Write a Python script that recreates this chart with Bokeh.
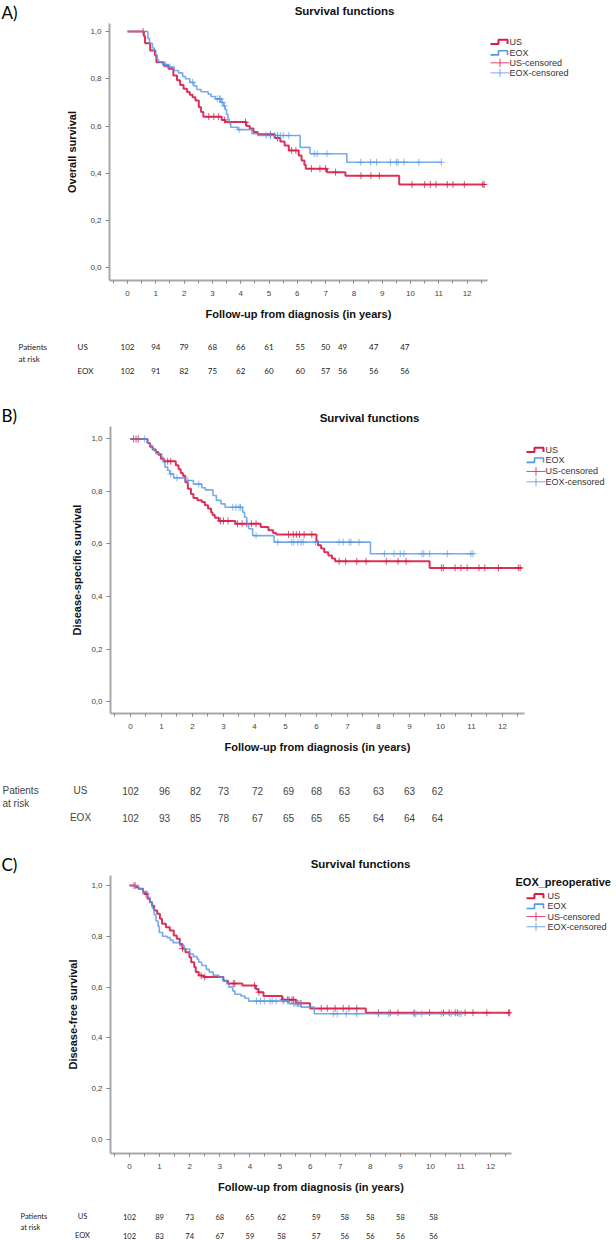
import numpy as np
from bokeh.plotting import figure
from bokeh.layouts import column, row
from bokeh.models import Range1d, SingleIntervalTicker, FixedTicker, CustomJSTickFormatter
from bokeh.embed import file_html
from bokeh.resources import INLINE
from bokeh.core.properties import value

# ---------------- data ----------------
x_ticks_years = list(range(0, 13))
y_ticks_surv = [0.0, 0.2, 0.4, 0.6, 0.8, 1.0]
legend_labels = ["US", "EOX", "US-censored", "EOX-censored"]
panel_letters = ["A)", "B)", "C)"]
y_titles = ["Overall survival", "Disease-specific survival", "Disease-free survival"]

# Panel A - overall survival (event times in years, survival after each event)
A_us_time = [0.58, 0.62, 0.80, 0.97, 1.02, 1.28, 1.45, 1.62, 1.75, 1.86, 1.98, 2.10, 2.20, 2.30, 2.40,
             2.52, 2.60, 2.68, 3.33, 3.45, 4.20, 4.32, 4.45, 4.60, 5.20, 5.40, 5.55, 5.70, 6.05, 6.15,
             6.25, 6.30, 7.05, 7.70, 9.60]
A_us_surv = [0.98, 0.95, 0.92, 0.90, 0.87, 0.855, 0.842, 0.814, 0.794, 0.774, 0.758, 0.744, 0.732, 0.722,
             0.708, 0.68, 0.66, 0.64, 0.626, 0.617, 0.60, 0.59, 0.575, 0.565, 0.55, 0.535, 0.518, 0.497,
             0.476, 0.455, 0.435, 0.42, 0.405, 0.39, 0.353]
A_us_last = 12.62
A_us_cens = [0.55, 2.87, 3.05, 3.22, 3.43, 4.17, 5.05, 5.3, 5.8, 5.95, 6.5, 6.8, 7.0, 7.35, 8.25, 8.6,
             8.9, 10.05, 10.5, 10.7, 10.9, 11.3, 11.5, 11.9, 12.55, 12.6]
A_eox_time = [0.72, 0.78, 0.88, 0.95, 1.00, 1.05, 1.10, 1.25, 1.45, 1.65, 1.80, 1.95, 2.05, 2.20, 2.35,
              2.45, 2.60, 2.85, 2.95, 3.10, 3.30, 3.40, 3.45, 3.50, 3.55, 3.60, 3.65, 3.90, 4.40, 4.60,
              6.10, 6.45, 7.75]
A_eox_surv = [0.97, 0.95, 0.93, 0.92, 0.90, 0.88, 0.87, 0.86, 0.85, 0.835, 0.825, 0.81, 0.80, 0.785, 0.77,
              0.755, 0.745, 0.735, 0.725, 0.715, 0.70, 0.685, 0.67, 0.65, 0.63, 0.61, 0.595, 0.585, 0.568,
              0.56, 0.51, 0.483, 0.447]
A_eox_last = 11.09
A_eox_cens = [1.35, 1.5, 2.3, 3.17, 3.25, 3.29, 3.35, 3.42, 3.94, 4.9, 5.05, 5.2, 5.3, 5.4, 5.5, 5.7,
              6.6, 6.7, 7.05, 8.24, 8.59, 8.8, 9.29, 9.5, 9.56, 9.77, 10.29, 11.09]
A_risk_pos = [0, 1, 2, 3, 4, 5, 6.1, 7, 7.6, 8.7, 9.8]
A_risk_us = [102, 94, 79, 68, 66, 61, 55, 50, 49, 47, 47]
A_risk_eox = [102, 91, 82, 75, 62, 60, 60, 57, 56, 56, 56]

# Panel B - disease-specific survival
B_us_time = [0.55, 0.63, 0.72, 0.82, 0.90, 0.98, 1.08, 1.46, 1.55, 1.62, 1.69, 1.77, 1.85, 1.95, 2.03,
             2.16, 2.30, 2.40, 2.50, 2.60, 2.65, 2.72, 2.85, 3.38, 4.20, 4.45, 4.60, 4.70, 6.00, 6.05,
             6.15, 6.25, 6.38, 6.50, 6.60, 9.65]
B_us_surv = [0.985, 0.97, 0.96, 0.95, 0.94, 0.925, 0.915, 0.90, 0.885, 0.87, 0.86, 0.835, 0.81, 0.79,
             0.775, 0.767, 0.76, 0.748, 0.735, 0.72, 0.71, 0.70, 0.688, 0.677, 0.665, 0.652, 0.642,
             0.636, 0.61, 0.595, 0.583, 0.569, 0.556, 0.545, 0.534, 0.509]
B_us_last = 12.63
B_us_cens = [0.1, 0.18, 0.25, 1.2, 1.3, 2.9, 3.0, 3.15, 3.45, 3.6, 3.75, 3.9, 4.05, 5.1, 5.25, 5.35,
             5.45, 5.6, 5.85, 6.73, 6.94, 7.3, 7.6, 8.25, 8.63, 8.89, 10.03, 10.09, 10.47, 10.66, 10.86,
             11.24, 11.43, 11.87, 12.51, 12.57]
B_eox_time = [0.55, 0.61, 0.70, 0.76, 0.82, 1.01, 1.05, 1.11, 1.20, 1.27, 1.39, 1.77, 2.03, 2.30, 2.41,
              2.66, 2.77, 2.92, 3.05, 3.62, 3.68, 3.75, 3.81, 3.94, 4.63, 7.74]
B_eox_surv = [0.985, 0.976, 0.963, 0.956, 0.944, 0.93, 0.912, 0.893, 0.88, 0.867, 0.852, 0.842, 0.828,
              0.814, 0.806, 0.785, 0.766, 0.753, 0.74, 0.721, 0.702, 0.677, 0.658, 0.632, 0.607, 0.563]
B_eox_last = 11.05
B_eox_cens = [0.45, 1.3, 1.5, 1.85, 2.2, 3.3, 3.4, 3.5, 3.55, 4.05, 4.75, 5.2, 5.27, 5.4, 5.5, 5.57,
              5.97, 6.73, 6.86, 7.05, 7.11, 7.37, 8.19, 8.5, 8.7, 8.82, 9.4, 9.46, 9.65, 10.22, 10.98,
              11.05]
B_risk_pos = [0, 1.1, 2.1, 3, 4.1, 5.1, 6, 6.9, 8, 9, 9.9]
B_risk_us = [102, 96, 82, 73, 72, 69, 68, 63, 63, 63, 62]
B_risk_eox = [102, 93, 85, 78, 67, 65, 65, 65, 64, 64, 64]

# Panel C - disease-free survival
C_us_time = [0.20, 0.30, 0.45, 0.50, 0.60, 0.68, 0.75, 0.82, 0.92, 1.01, 1.08, 1.21, 1.34, 1.47, 1.57,
             1.67, 1.76, 1.86, 1.99, 2.05, 2.15, 2.20, 2.30, 2.45, 3.12, 3.27, 3.75, 4.20, 4.28, 4.45,
             5.07, 5.53, 6.00, 7.85]
C_us_surv = [0.993, 0.987, 0.974, 0.967, 0.948, 0.934, 0.92, 0.902, 0.889, 0.869, 0.849, 0.836, 0.823,
             0.803, 0.79, 0.77, 0.751, 0.737, 0.718, 0.698, 0.679, 0.659, 0.646, 0.64, 0.625, 0.614,
             0.606, 0.593, 0.58, 0.565, 0.55, 0.536, 0.516, 0.499]
C_us_last = 12.63
C_us_cens = [0.15, 0.55, 1.76, 2.38, 2.5, 3.45, 3.5, 4.15, 4.3, 5.1, 5.25, 5.3, 5.4, 5.45, 5.6, 5.7,
             6.37, 6.57, 6.83, 7.1, 7.29, 7.55, 8.27, 8.66, 8.92, 9.45, 9.97, 10.43, 10.62, 10.82, 10.89,
             11.15, 11.41, 11.87, 12.59, 12.63]
C_eox_time = [0.30, 0.45, 0.60, 0.68, 0.76, 0.82, 0.88, 0.95, 0.99, 1.10, 1.25, 1.35, 1.45, 1.68, 1.82,
              2.00, 2.12, 2.25, 2.30, 2.40, 2.55, 2.65, 2.78, 2.97, 3.10, 3.23, 3.30, 3.43, 3.50, 3.70,
              3.83, 3.96, 5.30, 5.70, 6.14]
C_eox_surv = [0.987, 0.974, 0.954, 0.934, 0.91, 0.885, 0.86, 0.84, 0.815, 0.80, 0.795, 0.785, 0.775,
              0.763, 0.75, 0.73, 0.72, 0.71, 0.698, 0.685, 0.67, 0.659, 0.646, 0.64, 0.625, 0.612, 0.60,
              0.585, 0.572, 0.565, 0.556, 0.545, 0.535, 0.521, 0.495]
C_eox_last = 11.02
C_eox_cens = [0.2, 4.22, 4.35, 4.48, 4.67, 4.74, 4.87, 5.13, 5.26, 5.46, 5.53, 5.59, 5.66, 6.77, 6.9,
              7.2, 7.55, 8.27, 8.6, 9.45, 9.51, 9.71, 10.36, 10.69, 10.95, 11.02]
C_risk_pos = [0, 1, 2, 3, 4, 5.05, 6.2, 7.15, 8, 9, 10.1]
C_risk_us = [102, 89, 73, 68, 65, 62, 59, 58, 58, 58, 58]
C_risk_eox = [102, 83, 74, 67, 59, 58, 57, 56, 56, 56, 56]

# ---------------- style ----------------
RED = "#D81B47"
BLUE = "#5596E6"
AXIS_GRAY = "#A8A8A8"
SANS = "Liberation Sans"
PAGE_W = 616


def surv_at(t, times, surv):
    idx = int(np.searchsorted(np.array(times), t, side="right")) - 1
    return 1.0 if idx < 0 else surv[idx]


def blank(w, h, x_range=None, y_range=None):
    p = figure(width=w, height=h,
               x_range=x_range if x_range is not None else Range1d(0, w),
               y_range=y_range if y_range is not None else Range1d(h, 0),
               x_axis_type=None, y_axis_type=None, min_border=0,
               output_backend="svg", toolbar_location=None)
    p.outline_line_color = None
    p.background_fill_color = "white"
    p.border_fill_color = "white"
    return p


def header(h, letter, letter_y, title_x, title_y):
    p = blank(PAGE_W, h)
    p.text(x=[1], y=[letter_y], text=[letter], text_align="left", text_baseline="middle",
           text_font=value("Lato"), text_font_size="17px", text_color="#000000")
    p.text(x=[title_x], y=[title_y], text=["Survival functions"], text_align="center",
           text_baseline="middle", text_font=value(SANS), text_font_size="11.5px",
           text_font_style="bold", text_color="#111111")
    return p


def main_plot(cfg, ytitle, curves, ylabel_standoff):
    p = figure(width=cfg["w"], height=cfg["h"],
               x_range=Range1d(cfg["x0"], cfg["x1"]), y_range=Range1d(cfg["y0"], cfg["y1"]),
               min_border_left=cfg["left"], min_border_right=1, min_border_top=0,
               min_border_bottom=cfg["bottom"], output_backend="svg", toolbar_location=None)
    p.outline_line_color = None
    p.grid.visible = False
    for times, surv, last, cens, color, lw, alpha in curves:
        xs = [0.0] + list(times) + [last]
        ys = [1.0] + list(surv) + [surv[-1]]
        p.step(xs, ys, mode="after", line_color=color, line_width=lw, line_alpha=alpha)
        cy = [surv_at(c, times, surv) for c in cens]
        p.scatter(cens, cy, marker="cross", size=7, line_color=color, line_width=1,
                  line_alpha=alpha * 0.85)
    xa = p.xaxis[0]
    xa.ticker = SingleIntervalTicker(interval=1, num_minor_ticks=2)
    xa.axis_line_color = AXIS_GRAY
    xa.axis_line_width = 2
    xa.major_tick_line_color = "#8a8a8a"
    xa.major_tick_out = 3
    xa.major_tick_in = 0
    xa.minor_tick_line_color = "#8a8a8a"
    xa.minor_tick_out = 3
    xa.minor_tick_in = 0
    xa.major_label_text_font = SANS
    xa.major_label_text_font_size = "8px"
    xa.major_label_text_color = "#444444"
    xa.major_label_standoff = 7
    xa.axis_label = "Follow-up from diagnosis (in years)"
    xa.axis_label_text_font = SANS
    xa.axis_label_text_font_size = "11px"
    xa.axis_label_text_font_style = "bold"
    xa.axis_label_text_color = "#111111"
    xa.axis_label_standoff = 9
    ya = p.yaxis[0]
    ya.ticker = FixedTicker(ticks=y_ticks_surv, minor_ticks=[])
    ya.formatter = CustomJSTickFormatter(code="return tick.toFixed(1).replace('.', ',');")
    ya.axis_line_color = AXIS_GRAY
    ya.axis_line_width = 2
    ya.major_tick_line_color = "#8a8a8a"
    ya.major_tick_out = 4
    ya.major_tick_in = 0
    ya.major_label_text_font = SANS
    ya.major_label_text_font_size = "8px"
    ya.major_label_text_color = "#444444"
    ya.major_label_standoff = 4
    ya.axis_label = ytitle
    ya.axis_label_text_font = SANS
    ya.axis_label_text_font_size = "11px"
    ya.axis_label_text_font_style = "bold"
    ya.axis_label_text_color = "#111111"
    ya.axis_label_standoff = ylabel_standoff
    return p


def legend_panel(w, h, sym_x, text_x, ys, title=None, title_x=None, title_y=None):
    p = blank(w, h)
    if title:
        p.text(x=[title_x], y=[title_y], text=[title], text_align="left", text_baseline="middle",
               text_font=value(SANS), text_font_size="11px", text_font_style="bold",
               text_color="#111111")
    colors = [RED, BLUE, RED, BLUE]
    for i, (lab, col) in enumerate(zip(legend_labels, colors)):
        y = ys[i]
        if i < 2:
            p.line([sym_x, sym_x + 8, sym_x + 8, sym_x + 17, sym_x + 17],
                   [y + 2.5, y + 2.5, y - 2.5, y - 2.5, y + 2.5],
                   line_color=col, line_width=2 if i == 0 else 1.6)
        else:
            p.line([sym_x, sym_x + 19], [y, y], line_color=col, line_width=1, line_alpha=0.8)
            p.line([sym_x + 9.5, sym_x + 9.5], [y - 5, y + 5], line_color=col, line_width=1,
                   line_alpha=0.8)
        p.text(x=[text_x], y=[y], text=[lab], text_align="left", text_baseline="middle",
               text_font=value(SANS), text_font_size="9px", text_color="#333333")
    return p


def table_panel(h, cfg, pos, us, eox, rows_y, font, size, color, lab_x, grp_x, grp_align):
    ppy = (cfg["w"] - cfg["left"] - 1) / (cfg["x1"] - cfg["x0"])
    t0 = cfg["x0"] - cfg["left"] / ppy
    t1 = t0 + PAGE_W / ppy
    p = blank(PAGE_W, h, x_range=Range1d(t0, t1), y_range=Range1d(h, 0))
    p.extra_x_ranges = {"px": Range1d(0, PAGE_W)}
    y_us, y_risk, y_eox = rows_y
    common = dict(text_baseline="middle", text_font=value(font), text_font_size=size,
                  text_color=color)
    p.text(x=[lab_x, lab_x], y=[y_us, y_risk], text=["Patients", "at risk"], text_align="left",
           x_range_name="px", **common)
    p.text(x=[grp_x, grp_x], y=[y_us, y_eox], text=["US", "EOX"], text_align=grp_align,
           x_range_name="px", **common)
    p.text(x=pos, y=[y_us] * len(pos), text=[str(v) for v in us], text_align="center", **common)
    p.text(x=pos, y=[y_eox] * len(pos), text=[str(v) for v in eox], text_align="center", **common)
    return p


# frame geometry (pixels) and value ranges of each panel
cfgA = dict(w=488, h=307, left=109, bottom=50, x0=-0.636, x1=12.72, y0=-0.0529, y1=1.0338)
cfgB = dict(w=525, h=332, left=110, bottom=45, x0=-0.645, x1=12.71, y0=-0.0457, y1=1.0476)
cfgC = dict(w=512, h=325, left=110, bottom=47, x0=-0.631, x1=12.69, y0=-0.0551, y1=1.0394)

# ---- Panel A ----
hA = header(23, panel_letters[0], 12, 344, 10)
mA = main_plot(cfgA, y_titles[0], [
    (A_us_time, A_us_surv, A_us_last, A_us_cens, RED, 2, 0.9),
    (A_eox_time, A_eox_surv, A_eox_last, A_eox_cens, BLUE, 1.6, 0.8)], 9)
lA = legend_panel(PAGE_W - cfgA["w"], cfgA["h"], 2, 21, [22, 35, 47, 59])
tA = table_panel(70, cfgA, A_risk_pos, A_risk_us, A_risk_eox, (16, 28, 40), "Lato", "8px",
                 "#1a1a1a", 18, 77, "left")

# ---- Panel B ----
hB = header(26, panel_letters[1], 15, 369, 17)
mB = main_plot(cfgB, y_titles[1], [
    (B_us_time, B_us_surv, B_us_last, B_us_cens, RED, 2, 0.9),
    (B_eox_time, B_eox_surv, B_eox_last, B_eox_cens, BLUE, 1.6, 0.8)], 5)
lB = legend_panel(PAGE_W - cfgB["w"], cfgB["h"], 1, 20, [27, 39, 52, 64])
tB = table_panel(77, cfgB, B_risk_pos, B_risk_us, B_risk_eox, (32, 45, 59), SANS, "10px",
                 "#444444", 2, 80, "center")

# ---- Panel C ----
hC = header(40, panel_letters[2], 29, 360, 28)
mC = main_plot(cfgC, y_titles[2], [
    (C_us_time, C_us_surv, C_us_last, C_us_cens, RED, 2, 0.9),
    (C_eox_time, C_eox_surv, C_eox_last, C_eox_cens, BLUE, 1.6, 0.8)], 9)
lC = legend_panel(PAGE_W - cfgC["w"], cfgC["h"], 14, 35, [24, 36, 48, 60],
                  title="EOX_preoperative", title_x=3, title_y=8)
tC = table_panel(40, cfgC, C_risk_pos, C_risk_us, C_risk_eox, (16, 27, 35), "Lato", "7.5px",
                 "#1a1a1a", 20, 82, "center")

layout = column(hA, row(mA, lA), tA, hB, row(mB, lB), tB, hC, row(mC, lC), tC)

with open("out.html", "w") as f:
    f.write(file_html(layout, INLINE))
